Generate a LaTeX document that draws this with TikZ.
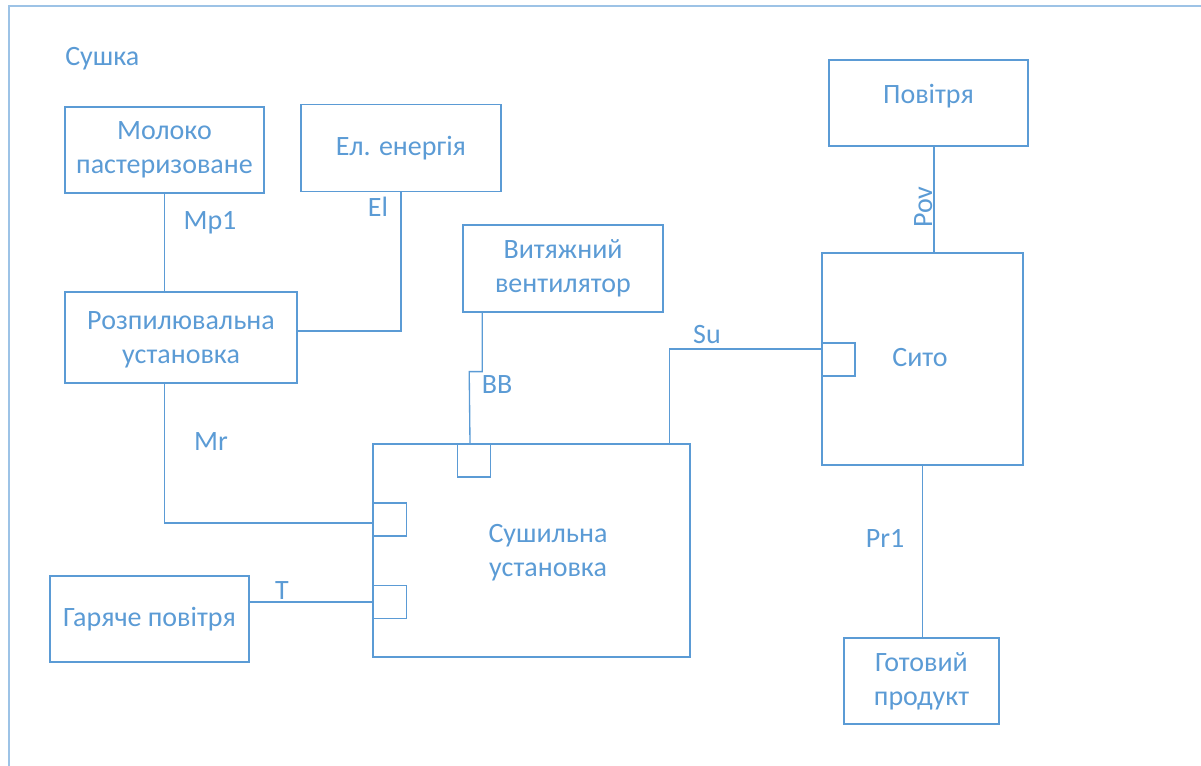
\documentclass[tikz,border=0pt]{standalone}
\usepackage{fontspec}
\setmainfont{Carlito}
\usetikzlibrary{calc}
\definecolor{ink}{HTML}{5B9BD5}
\definecolor{frameblue}{HTML}{9DC3E6}
\begin{document}
\begin{tikzpicture}[x=0.75pt,y=-0.75pt,
  font=\fontsize{21}{25.5}\selectfont,
  box/.style={draw=ink,line width=1.2pt,text=ink,align=center,inner sep=0pt,
    minimum width=#1},
  port/.style={draw=ink,line width=1.1pt,inner sep=0pt,minimum width=25pt,minimum height=25pt},
  link/.style={draw=ink,line width=1pt},
  tag/.style={text=ink,anchor=base,inner sep=0pt}]
\useasboundingbox (0,0) rectangle (1201,766);
% outer frame (only top and left edges fall inside the page)
\draw[frameblue,line width=1.5pt] (9,780) -- (9,6) -- (1210,6);
\node[tag,anchor=base west] (title) at (65,66) {Сушка};
% process blocks
\node[box=149pt,minimum height=64.5pt] (milk) at (164.5,150) {Молоко\\пастеризоване};
\node[box=150pt,minimum height=65pt] (el) at (401,148) {Ел. енергія};
\node[box=174pt,minimum height=68pt] (spray) at (181,337.5) {};
\node[text=ink,align=center] (spraytxt) at (181,340) {Розпилювальна\\установка};
\node[box=150pt,minimum height=65pt] (fan) at (563,268.5) {Витяжний\\вентилятор};
\node[box=149pt,minimum height=64.5pt] (air) at (928.5,103) {};
\node[text=ink] (airtxt) at (928.5,96) {Повітря};
\node[box=150.75pt,minimum height=159pt] (sieve) at (922.5,359) {};
\node[text=ink] (sievetxt) at (920,358) {Сито};
\node[box=237.75pt,minimum height=159.75pt] (dryer) at (531.5,550.5) {};
\node[text=ink,align=center] (dryertxt) at (548,553) {Сушильна\\установка};
\node[box=149pt,minimum height=64.5pt] (hot) at (149.5,619) {Гаряче повітря};
\node[box=116pt,minimum height=64.5pt] (product) at (921.5,681) {Готовий\\продукт};
% inlet ports
\node[port] (sqTop) at (474,460.5) {};
\node[port] (sqL1) at (390,519.5) {};
\node[port] (sqL2) at (390,602) {};
\node[port] (sqS) at (838.5,359.5) {};
% connectors
\draw[link] (milk.south) -- (milk.south |- spray.north);
\draw[link] (el.south) |- ($(spray.east)+(0,-6.5)$);
\draw[link] (milk.south |- spray.south) |- ($(sqL1.west)+(0,3.5)$);
\draw[link] (hot.east |- sqL2.west) -- (sqL2.west);
\draw[link] ($(fan.south west)+(20,0)$) -- ++(0,59) -- ++(-13,0) -- ($(sqTop.north)+(-4,0)$);
\draw[link] ($(dryer.north east)+(-21,0)$) |- ($(sqS.west)+(0,-10.5)$);
\coordinate (povtop) at ($(air.south)+(5.5,0)$);
\draw[link] (povtop) -- (povtop |- sieve.north);
\draw[link] (sieve.south) -- (sieve.south |- product.north);
% stream labels
\node[tag] (lMp1) at (210,230) {Mp1};
\node[tag] (lEl) at (378,217) {El};
\node[tag] (lMr) at (211,450) {Mr};
\node[tag] (lBB) at (497,393) {BB};
\node[tag] (lSu) at (707,343) {Su};
\node[tag,rotate=90] (lPov) at (932,207) {Pov};
\node[tag] (lPr1) at (885,547) {Pr1};
\node[tag] (lT) at (282,599) {T};
\end{tikzpicture}
\end{document}
